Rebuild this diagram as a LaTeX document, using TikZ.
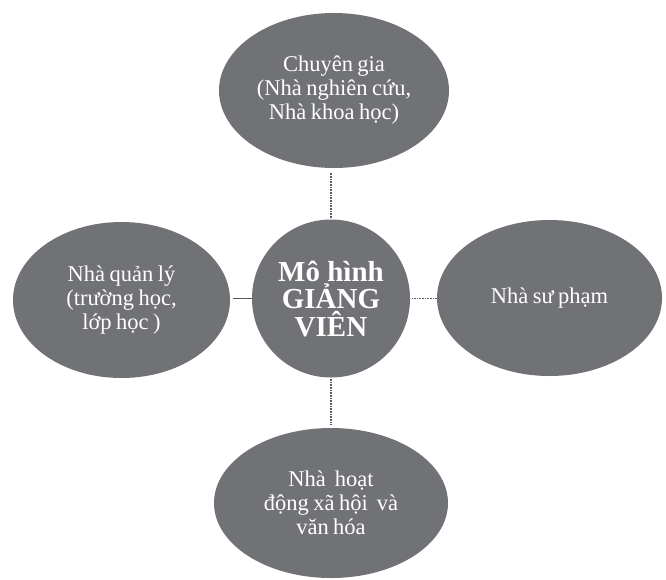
\documentclass[tikz,border=0pt]{standalone}
\usepackage{fontspec}
\setmainfont{Liberation Serif}
\usetikzlibrary{shapes.geometric}
\definecolor{ovfill}{RGB}{113,114,118}
\definecolor{lnk}{RGB}{90,90,93}
\newcommand{\ovfont}{\fontsize{22.5pt}{24pt}\selectfont\spaceskip=0.2em plus 0.05em\relax}
\tikzset{
  oval/.style={ellipse, fill=ovfill, inner sep=0pt, text=white, align=center,
    font=\ovfont},
  hub/.style={circle, fill=ovfill, inner sep=0pt, minimum size=158pt, text=white, align=center,
    font=\fontsize{29pt}{27.5pt}\selectfont\bfseries},
  fineline/.style={draw=lnk, line width=1.8pt, dash pattern=on 1pt off 0.6pt},
  solidline/.style={draw=lnk, line width=1.3pt}
}
\begin{document}
\begin{tikzpicture}[x=1pt,y=-1pt]
\useasboundingbox (0,0) rectangle (666,579);
\node[hub] (c) at (331,298.5) {Mô hình\\GIẢNG\\VIÊN};
\node[oval, minimum width=230pt, minimum height=155pt] (t) at (334,90.5)
  {Chuyên gia\\(Nhà nghiên cứu,\\Nhà khoa học)};
\node[oval, minimum width=217pt, minimum height=156pt] (l) at (121.5,300)
  {Nhà quản lý\\(trường học,\\lớp học )};
\node[oval, minimum width=225pt, minimum height=156pt] (r) at (549.5,298)
  {Nhà sư phạm};
\node[oval, minimum width=234pt, minimum height=150pt] (b) at (331,503)
  {Nhà\ \ hoạt\\động xã hội\ \ và\\văn hóa};
\draw[fineline, shorten <=1pt, shorten >=4pt] (c.north) -- (c.north |- t.south);
\draw[fineline, shorten <=1pt, shorten >=3pt] (c.south) -- (c.south |- b.north);
\draw[solidline, shorten >=3pt] (c.west) -- (c.west -| l.east);
\draw[fineline, line width=1.3pt, shorten <=2pt] (c.east) -- (c.east -| r.west);
\end{tikzpicture}
\end{document}
